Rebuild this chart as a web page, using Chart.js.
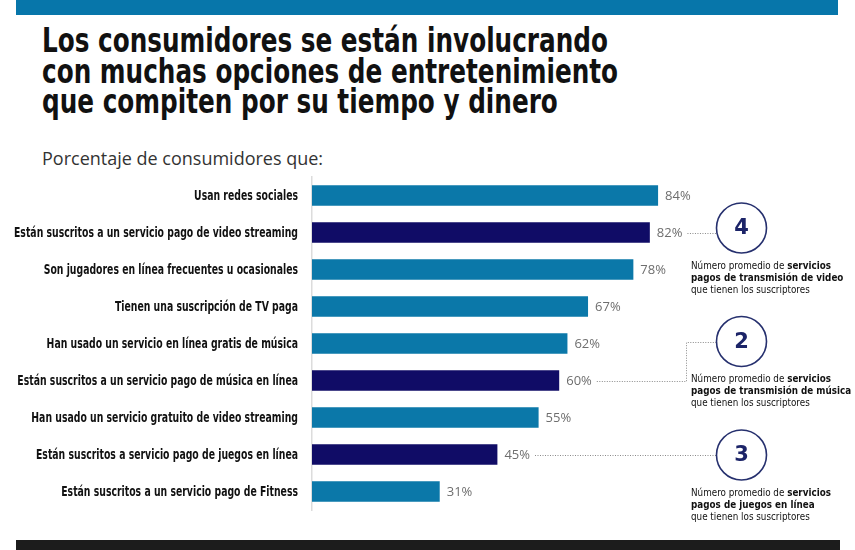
<!DOCTYPE html>
<html>
<head>
<meta charset="utf-8">
<script src="https://cdn.jsdelivr.net/npm/chart.js@4.4.0/dist/chart.umd.min.js"></script>
<style>
  body { margin: 0; background: #fff; }
  #wrap { position: relative; width: 855px; height: 550px; overflow: hidden; }
  #topband { position: absolute; left: 16px; top: 0; width: 822px; height: 15px; background: #0776aa; }
  #bottomband { position: absolute; left: 16px; top: 540px; width: 824px; height: 10px; background: #1c1c1c; }
  #title { position: absolute; left: 42px; top: 25px; font-family: "DejaVu Sans", sans-serif; font-stretch: condensed;
           font-weight: bold; font-size: 34px; line-height: 30.5px; color: #111; transform-origin: 0 0; white-space: nowrap; }
  #title span { display: inline-block; }
  #subtitle { position: absolute; left: 42px; top: 146px; font-family: "Open Sans", sans-serif; font-size: 18px; color: #333; }
  canvas { position: absolute; left: 0; top: 0; }
</style>
</head>
<body>
<div id="wrap">
  <div id="topband"></div>
  <div id="title"><span id="t1">Los consumidores se están involucrando</span><br>con muchas opciones de entretenimiento<br>que compiten por su tiempo y dinero</div>
  <div id="subtitle">Porcentaje de consumidores que:</div>
  <canvas id="chart" width="855" height="550"></canvas>
  <div id="bottomband"></div>
</div>
<script>
// Datos
var categorias = [
    'Usan redes sociales',
    'Están suscritos a un servicio pago de video streaming',
    'Son jugadores en línea frecuentes u ocasionales',
    'Tienen una suscripción de TV paga',
    'Han usado un servicio en línea gratis de música',
    'Están suscritos a un servicio pago de música en línea',
    'Han usado un servicio gratuito de video streaming',
    'Están suscritos a servicio pago de juegos en línea',
    'Están suscritos a un servicio pago de Fitness'
];
var porcentajes = [84, 82, 78, 67, 62, 60, 55, 45, 31];
// true = servicio pago con suscripción (barra oscura)
var suscripcionPaga = [false, true, false, false, false, true, false, true, false];

// Número promedio de servicios pagos por tipo, y barra a la que se conectan
var promedioServicios = [4, 2, 3];
var barraConectada = [1, 5, 7];
var tipoServicio = ['transmisión de video', 'transmisión de música', 'juegos en línea'];

var colorClaro = '#0b78a9';
var colorOscuro = '#100c66';
var fontLabel = '"DejaVu Sans", sans-serif';

// comprimir el título (no hay fuente condensada instalada)
var t1 = document.getElementById('t1');
var titleEl = document.getElementById('title');
titleEl.style.transform = 'scaleX(' + (566 / t1.getBoundingClientRect().width) + ')';

var colores = [];
for (var i = 0; i < suscripcionPaga.length; i++) {
    colores.push(suscripcionPaga[i] ? colorOscuro : colorClaro);
}

function textoComprimido(ctx, txt, x, y, sx, align) {
    ctx.save();
    ctx.translate(x, y);
    ctx.scale(sx, 1);
    ctx.textAlign = align;
    ctx.fillText(txt, 0, 0);
    ctx.restore();
    return ctx.measureText(txt).width * sx;
}

// Etiquetas de categoría, valores, conectores y círculos
var annotationsPlugin = {
    id: 'annotations',
    afterDatasetsDraw: function(chart) {
        var ctx = chart.ctx;
        var xScale = chart.scales.x;
        var yScale = chart.scales.y;
        ctx.save();
        ctx.textBaseline = 'middle';

        // categorías
        ctx.font = 'bold 14px ' + fontLabel;
        ctx.fillStyle = '#111';
        var sxLabel = 284 / ctx.measureText(categorias[1]).width;
        for (var i = 0; i < categorias.length; i++) {
            textoComprimido(ctx, categorias[i], 298, yScale.getPixelForValue(i) + 1, sxLabel, 'right');
        }

        // valores
        ctx.font = '13px "Open Sans", sans-serif';
        ctx.fillStyle = '#6e6e6e';
        ctx.textAlign = 'left';
        var finEtiqueta = [];
        for (var i = 0; i < porcentajes.length; i++) {
            var x = xScale.getPixelForValue(porcentajes[i]) + 7;
            var y = yScale.getPixelForValue(i);
            var txt = porcentajes[i] + '%';
            ctx.fillText(txt, x, y + 1);
            finEtiqueta.push(x + ctx.measureText(txt).width);
        }

        var circX = 741.5;
        var radio = 25;
        var circY = [228, 341.5, 455];

        ctx.font = '11px ' + fontLabel;
        var sxNota = 0.8;

        for (var k = 0; k < promedioServicios.length; k++) {
            var idx = barraConectada[k];
            var yb = Math.round(yScale.getPixelForValue(idx));
            var x0 = finEtiqueta[idx] + 5;

            // conector punteado
            ctx.strokeStyle = '#8a8a8a';
            ctx.lineWidth = 1;
            ctx.setLineDash([1, 1.5]);
            ctx.beginPath();
            if (Math.abs(yb - circY[k]) > 20) {
                var xq = 686;
                ctx.moveTo(x0, yb + 0.5);
                ctx.lineTo(xq + 0.5, yb + 0.5);
                ctx.lineTo(xq + 0.5, Math.round(circY[k]) + 0.5);
                ctx.lineTo(circX - radio, Math.round(circY[k]) + 0.5);
            } else {
                ctx.moveTo(x0, yb + 0.5);
                ctx.lineTo(circX - radio + 0.5, yb + 0.5);
            }
            ctx.stroke();
            ctx.setLineDash([]);

            // círculo
            ctx.strokeStyle = '#26306e';
            ctx.lineWidth = 1.6;
            ctx.beginPath();
            ctx.arc(circX, circY[k], radio, 0, Math.PI * 2);
            ctx.stroke();

            ctx.fillStyle = '#1c2468';
            ctx.font = 'bold 21px ' + fontLabel;
            ctx.textAlign = 'center';
            ctx.fillText(String(promedioServicios[k]), circX, circY[k] + 1);

            // texto explicativo
            var tx = 691;
            var ty = circY[k] + 38;
            ctx.fillStyle = '#111';
            ctx.font = '11px ' + fontLabel;
            var w1 = textoComprimido(ctx, 'Número promedio de ', tx, ty, sxNota, 'left');
            ctx.font = 'bold 11px ' + fontLabel;
            textoComprimido(ctx, 'servicios', tx + w1, ty, sxNota, 'left');
            textoComprimido(ctx, 'pagos de ' + tipoServicio[k], tx, ty + 12, sxNota, 'left');
            ctx.font = '11px ' + fontLabel;
            textoComprimido(ctx, 'que tienen los suscriptores', tx, ty + 24, sxNota, 'left');
        }
        ctx.restore();
    }
};

var ctxChart = document.getElementById('chart');
var chart = new Chart(ctxChart, {
    type: 'bar',
    data: {
        labels: categorias,
        datasets: [{
            data: porcentajes,
            backgroundColor: colores,
            categoryPercentage: 1,
            barPercentage: 0.56
        }]
    },
    options: {
        indexAxis: 'y',
        responsive: false,
        animation: false,
        layout: { padding: { left: 0, right: 131, top: 177, bottom: 40 } },
        scales: {
            x: {
                display: false,
                min: 0,
                max: 100
            },
            y: {
                afterFit: function(scale) { scale.width = 312; },
                grid: { display: false, drawTicks: false },
                border: { display: true, color: '#dcdcdc', width: 1.5 },
                ticks: { display: false }
            }
        },
        plugins: {
            legend: { display: false },
            tooltip: { enabled: false }
        }
    },
    plugins: [annotationsPlugin]
});
</script>
</body>
</html>
